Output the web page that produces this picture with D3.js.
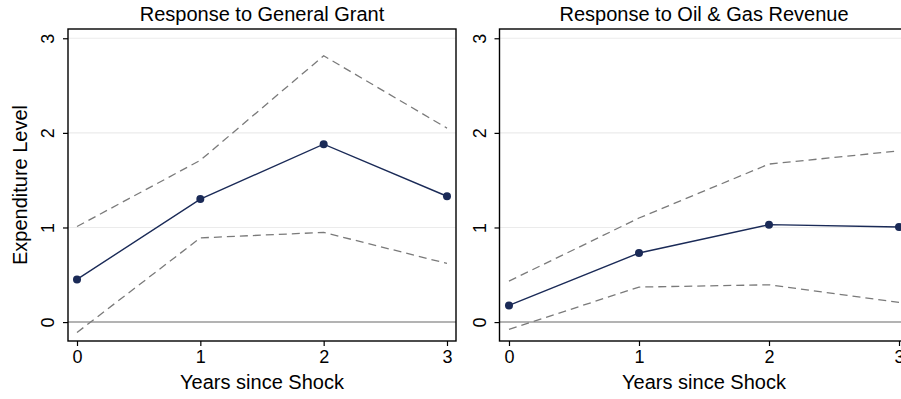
<!DOCTYPE html>
<html>
<head>
<meta charset="utf-8">
<script src="https://cdn.jsdelivr.net/npm/d3@7"></script>
<style>
html,body{margin:0;padding:0;background:#fff;overflow:hidden;}
svg{display:block;font-family:"Liberation Sans",Arial,sans-serif;}
</style>
</head>
<body>
<svg id="chart" width="901" height="399"></svg>
<script>
const years = [0, 1, 2, 3];
const yTicks = [0, 1, 2, 3];
const titles = ["Response to General Grant", "Response to Oil & Gas Revenue"];
const xTitle = "Years since Shock";
const yTitle = "Expenditure Level";

const grantEst = [0.451, 1.30, 1.88, 1.33];
const grantUpper = [1.01, 1.71, 2.815, 2.05];
const grantLower = [-0.11, 0.89, 0.948, 0.62];

const oilEst = [0.176, 0.73, 1.03, 1.005];
const oilUpper = [0.433, 1.10, 1.67, 1.81];
const oilLower = [-0.077, 0.37, 0.394, 0.208];

const panels = [
  {title: titles[0], est: grantEst, up: grantUpper, lo: grantLower, left: 68, right: 456, showYTitle: true},
  {title: titles[1], est: oilEst, up: oilUpper, lo: oilLower, left: 499.5, right: 908.5, showYTitle: false}
];

const svg = d3.select("#chart");
const plotTop = 29, plotBottom = 341;
const FONT = "Liberation Sans, Arial, sans-serif";

panels.forEach(p => {
  const x = d3.scaleLinear().domain([-0.073, 3.073]).range([p.left, p.right]);
  const y = d3.scaleLinear().domain([-0.2, 3.098]).range([plotBottom, plotTop]);
  const g = svg.append("g");

  // gridlines
  g.selectAll("line.grid").data(yTicks.filter(t => t > 0)).enter().append("line")
    .attr("x1", p.left).attr("x2", p.right)
    .attr("y1", d => y(d)).attr("y2", d => y(d))
    .attr("stroke", "#ebebeb").attr("stroke-width", 1.2);
  // zero line
  g.append("line").attr("x1", p.left).attr("x2", p.right)
    .attr("y1", y(0)).attr("y2", y(0))
    .attr("stroke", "#9a9a9a").attr("stroke-width", 1.5);

  const line = d3.line().x((d, i) => x(years[i])).y(d => y(d));

  [p.up, p.lo].forEach(arr => {
    g.append("path").attr("d", line(arr)).attr("fill", "none")
      .attr("stroke", "#7a7a7a").attr("stroke-width", 1.3)
      .attr("stroke-dasharray", "8,5");
  });

  g.append("path").attr("d", line(p.est)).attr("fill", "none")
    .attr("stroke", "#1a2a57").attr("stroke-width", 1.4);
  g.selectAll("circle").data(p.est).enter().append("circle")
    .attr("cx", (d, i) => x(years[i])).attr("cy", d => y(d))
    .attr("r", 4).attr("fill", "#1a2a57");

  // frame
  g.append("rect").attr("x", p.left).attr("y", plotTop)
    .attr("width", p.right - p.left).attr("height", plotBottom - plotTop)
    .attr("fill", "none").attr("stroke", "#000").attr("stroke-width", 1.4);

  // x axis
  const xAxis = d3.axisBottom(x).tickValues(years).tickSize(5).tickPadding(3).tickFormat(d3.format("d"));
  const xa = g.append("g").attr("transform", `translate(0,${plotBottom})`).call(xAxis);
  xa.select(".domain").remove();
  xa.selectAll("line").attr("stroke", "#000").attr("stroke-width", 1.2);
  xa.selectAll("text").attr("font-size", 18).attr("fill", "#000").attr("font-family", FONT)
    .attr("dy", null).attr("y", 22);

  // y axis
  const yAxis = d3.axisLeft(y).tickValues(yTicks).tickSize(5).tickPadding(0).tickFormat(d3.format("d"));
  const ya = g.append("g").attr("transform", `translate(${p.left},0)`).call(yAxis);
  ya.select(".domain").remove();
  ya.selectAll("line").attr("stroke", "#000").attr("stroke-width", 1.2);
  ya.selectAll("text")
    .attr("font-size", 18).attr("fill", "#000").attr("font-family", FONT)
    .attr("x", null).attr("dy", null)
    .attr("text-anchor", "middle")
    .attr("transform", "translate(-14,0) rotate(-90)")
    .attr("y", 0);

  // title
  g.append("text").attr("x", (p.left + p.right) / 2).attr("y", 21)
    .attr("text-anchor", "middle").attr("font-size", 20).attr("font-family", FONT).attr("fill", "#000")
    .text(p.title);
  // x title
  g.append("text").attr("x", (p.left + p.right) / 2).attr("y", 389)
    .attr("text-anchor", "middle").attr("font-size", 20).attr("font-family", FONT).attr("fill", "#000")
    .text(xTitle);
  if (p.showYTitle) {
    g.append("text").attr("transform", `translate(27,${(plotTop + plotBottom) / 2}) rotate(-90)`)
      .attr("text-anchor", "middle").attr("font-size", 20).attr("font-family", FONT).attr("fill", "#000")
      .text(yTitle);
  }
});
</script>
</body>
</html>
